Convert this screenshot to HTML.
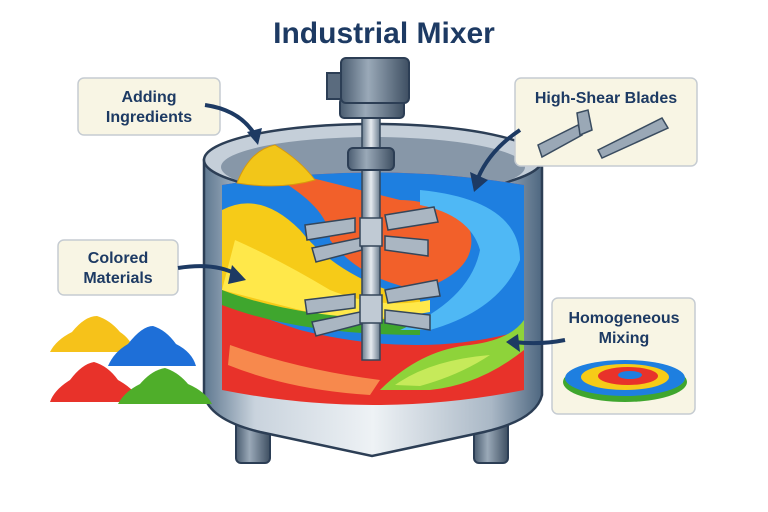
<!DOCTYPE html>
<html><head><meta charset="utf-8"><style>
html,body{margin:0;padding:0;background:#fff;width:768px;height:512px;overflow:hidden}
svg{display:block}
text{font-family:"Liberation Sans",sans-serif;font-weight:bold;fill:#1d3a63}
</style></head><body>
<svg width="768" height="512" viewBox="0 0 768 512">
<defs>
<linearGradient id="steel" x1="0" x2="1"><stop offset="0" stop-color="#5f7890"/><stop offset="0.15" stop-color="#c9d3dd"/><stop offset="0.5" stop-color="#eef2f5"/><stop offset="0.85" stop-color="#aab8c6"/><stop offset="1" stop-color="#4e6780"/></linearGradient>
<linearGradient id="dark" x1="0" x2="1"><stop offset="0" stop-color="#4a5c70"/><stop offset="0.4" stop-color="#9aa9b8"/><stop offset="1" stop-color="#3e4f62"/></linearGradient>
<linearGradient id="shaft" x1="0" x2="1"><stop offset="0" stop-color="#6a7c8e"/><stop offset="0.5" stop-color="#e6ebf0"/><stop offset="1" stop-color="#6a7c8e"/></linearGradient>
</defs>
<text x="384" y="43" font-size="30" text-anchor="middle">Industrial Mixer</text>
<rect x="236" y="405" width="34" height="58" rx="5" fill="url(#dark)" stroke="#2c3e55" stroke-width="2"/>
<rect x="474" y="405" width="34" height="58" rx="5" fill="url(#dark)" stroke="#2c3e55" stroke-width="2"/>
<path d="M204 160 L204 395 Q210 420 260 432 L372 456 L484 432 Q536 420 542 395 L542 160 Z" fill="url(#steel)" stroke="#2c3e55" stroke-width="2.5"/>
<ellipse cx="373" cy="160" rx="169" ry="36" fill="#c5cfd9" stroke="#2c3e55" stroke-width="2.5"/>
<ellipse cx="373" cy="167" rx="152" ry="30" fill="#8797a8"/>
<path d="M222 185 Q373 160 524 185 L524 390 Q373 420 222 390 Z" fill="#e8322a"/>
<path d="M222 185 Q373 160 524 185 L524 330 Q420 360 300 330 Q240 310 222 300 Z" fill="#1e7fe0"/>
<path d="M222 210 Q260 190 300 230 Q340 280 420 300 L420 320 Q320 320 240 300 L222 290 Z" fill="#f6cb18"/>
<path d="M235 240 Q280 260 330 290 Q380 310 430 300 L430 312 Q360 325 300 310 L222 290 Z" fill="#ffe84a"/>
<path d="M222 290 Q300 320 420 320 L420 335 Q300 335 222 305 Z" fill="#3fa62e"/>
<path d="M280 180 Q330 210 330 240 Q360 280 420 290 Q480 270 470 230 Q440 200 400 200 L300 175 Z" fill="#f2602a"/>
<path d="M420 190 Q520 200 520 260 Q500 310 430 330 L400 330 Q470 300 480 250 Q470 215 420 205 Z" fill="#4fb8f5"/>
<path d="M380 390 Q420 350 470 345 Q510 340 524 320 L524 350 Q480 385 430 390 Z" fill="#8ed33a"/>
<path d="M395 385 Q430 360 490 355 Q460 375 420 386 Z" fill="#c6ea5a"/>
<path d="M230 345 Q300 370 380 380 L370 395 Q290 390 228 365 Z" fill="#f7894d"/>
<path d="M237 183 Q250 150 275 145 Q300 160 315 180 Q280 190 237 183 Z" fill="#f2c619" stroke="#d89a0c" stroke-width="1"/>
<rect x="362" y="110" width="18" height="250" fill="url(#shaft)" stroke="#34465a" stroke-width="1.5"/>
<rect x="348" y="148" width="46" height="22" rx="5" fill="url(#dark)" stroke="#2c3e55" stroke-width="2"/>
<g fill="#aab6c2" stroke="#34465a" stroke-width="1.5">
<polygon points="305,225 355,218 355,232 307,240"/><polygon points="312,248 360,238 362,250 316,262"/>
<polygon points="385,215 434,207 438,222 388,230"/><polygon points="385,236 428,240 428,256 385,250"/>
<polygon points="305,300 355,294 355,308 307,314"/><polygon points="312,322 360,312 362,324 316,336"/>
<polygon points="385,290 437,280 440,296 388,303"/><polygon points="385,310 430,315 430,330 385,323"/>
</g>
<rect x="360" y="218" width="22" height="28" fill="#c0cad4" stroke="#34465a" stroke-width="1.5"/>
<rect x="360" y="295" width="22" height="28" fill="#c0cad4" stroke="#34465a" stroke-width="1.5"/>
<rect x="340" y="98" width="64" height="20" rx="4" fill="url(#dark)" stroke="#2c3e55" stroke-width="2"/>
<rect x="327" y="73" width="14" height="26" fill="#5a6b7e" stroke="#2c3e55" stroke-width="2"/>
<rect x="341" y="58" width="68" height="45" rx="5" fill="url(#dark)" stroke="#2c3e55" stroke-width="2"/>
<g fill="#f8f5e4" stroke="#c6ccd2" stroke-width="1.5">
<rect x="78" y="78" width="142" height="57" rx="6"/>
<rect x="515" y="78" width="182" height="88" rx="6"/>
<rect x="58" y="240" width="120" height="55" rx="6"/>
<rect x="552" y="298" width="143" height="116" rx="6"/>
</g>
<text x="149" y="102" font-size="16" text-anchor="middle">Adding</text>
<text x="149" y="122" font-size="16" text-anchor="middle">Ingredients</text>
<text x="606" y="103" font-size="16" text-anchor="middle">High-Shear Blades</text>
<text x="118" y="263" font-size="16" text-anchor="middle">Colored</text>
<text x="118" y="283" font-size="16" text-anchor="middle">Materials</text>
<text x="624" y="323" font-size="16" text-anchor="middle">Homogeneous</text>
<text x="624" y="343" font-size="16" text-anchor="middle">Mixing</text>
<g fill="#9aa8b6" stroke="#3a4c60" stroke-width="1.5">
<polygon points="538,145 578,125 582,135 542,157"/><polygon points="577,113 588,110 592,130 580,135"/>
<polygon points="598,150 662,118 668,128 602,158"/>
</g>
<ellipse cx="625" cy="382" rx="62" ry="20" fill="#3fa62e"/>
<ellipse cx="625" cy="378" rx="60" ry="18" fill="#1e7fe0"/>
<ellipse cx="625" cy="377" rx="44" ry="13" fill="#f6cb18"/>
<ellipse cx="628" cy="376" rx="30" ry="9" fill="#e8322a"/>
<ellipse cx="630" cy="375" rx="12" ry="4" fill="#1e7fe0"/>
<path d="M50 352 Q56 340 72 332 Q85 316 97 316 Q110 320 120 332 Q132 340 134 352 Z" fill="#f6c21a"/>
<path d="M108 366 Q114 352 128 344 Q142 326 153 326 Q166 330 176 344 Q192 352 196 366 Z" fill="#1e6fd8"/>
<path d="M50 402 Q54 390 70 380 Q82 364 94 362 Q108 366 118 380 Q136 390 140 402 Z" fill="#e8322a"/>
<path d="M118 404 Q124 392 140 384 Q152 370 165 368 Q178 372 188 384 Q206 392 212 404 Z" fill="#4fae2a"/>
<g fill="none" stroke="#1d3a63" stroke-width="4">
<path d="M205 105 Q240 110 255 135"/><path d="M520 130 Q490 150 478 178"/>
<path d="M178 268 Q215 262 238 275"/><path d="M565 340 Q540 345 514 342"/>
</g>
<g fill="#1d3a63">
<polygon points="247,132 262,128 258,145"/><polygon points="470,172 488,180 474,192"/>
<polygon points="232,265 246,280 228,284"/><polygon points="518,334 506,342 520,352"/>
</g>
</svg>
</body></html>
